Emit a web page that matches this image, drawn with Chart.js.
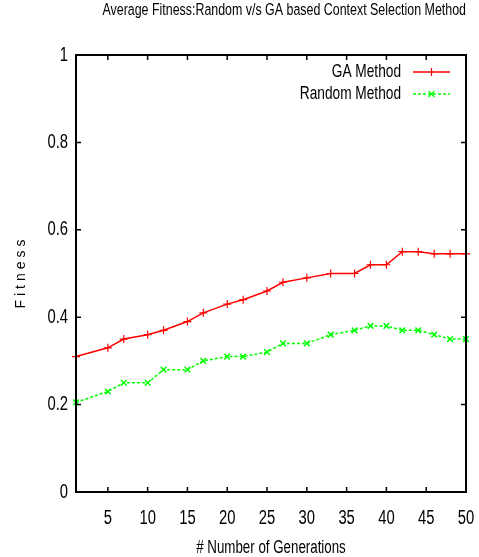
<!DOCTYPE html>
<html>
<head>
<meta charset="utf-8">
<script src="https://cdn.jsdelivr.net/npm/chart.js@4"></script>
<style>
  html, body { margin: 0; padding: 0; background: #fff; }
  #wrap { width: 479px; height: 557px; }
</style>
</head>
<body>
<div id="wrap"><canvas id="grafico" width="479" height="557"></canvas></div>
<script>
// Datos
const generaciones = [1, 5, 7, 10, 12, 15, 17, 20, 22, 25, 27, 30, 33, 36, 38, 40, 42, 44, 46, 48, 50];
const fitnessGA = [0.31, 0.33, 0.35, 0.36, 0.37, 0.39, 0.41, 0.43, 0.44, 0.46, 0.48, 0.49, 0.50, 0.50, 0.52, 0.52, 0.55, 0.55, 0.545, 0.545, 0.545];
const fitnessRandom = [0.205, 0.23, 0.25, 0.25, 0.28, 0.28, 0.30, 0.31, 0.31, 0.32, 0.34, 0.34, 0.36, 0.37, 0.38, 0.38, 0.37, 0.37, 0.36, 0.35, 0.35];
const ticksX = [5, 10, 15, 20, 25, 30, 35, 40, 45, 50];
const ticksY = [0, 0.2, 0.4, 0.6, 0.8, 1];
const nombres = ["GA Method", "Random Method"];

const fuente = "'Liberation Sans', Arial, sans-serif";

const ctx = document.getElementById('grafico').getContext('2d');

// no hay fuente estrecha instalada: se comprime el texto en horizontal
const fillTextNormal = ctx.fillText.bind(ctx);
ctx.fillText = function (t, x, y, maxW) {
  this.save();
  this.translate(x, y);
  this.scale(0.74, 1);
  fillTextNormal(t, 0, 0);
  this.restore();
};

// marco, ticks hacia dentro, leyenda y etiqueta del eje y
const marco = {
  id: 'marco',
  afterDraw(chart) {
    const c = chart.ctx;
    const a = chart.chartArea;
    const sx = chart.scales.x, sy = chart.scales.y;
    c.save();
    c.strokeStyle = '#000';
    c.lineWidth = 2;
    c.strokeRect(a.left, a.top, a.right - a.left, a.bottom - a.top);
    c.lineWidth = 1.5;
    c.beginPath();
    ticksX.forEach(v => {
      const px = sx.getPixelForValue(v);
      c.moveTo(px, a.bottom); c.lineTo(px, a.bottom - 5);
      c.moveTo(px, a.top); c.lineTo(px, a.top + 5);
    });
    ticksY.forEach(v => {
      const py = sy.getPixelForValue(v);
      c.moveTo(a.left, py); c.lineTo(a.left + 5, py);
      c.moveTo(a.right, py); c.lineTo(a.right - 5, py);
    });
    c.stroke();

    // leyenda
    c.font = '18.5px ' + fuente;
    c.textAlign = 'right';
    c.textBaseline = 'middle';
    chart.data.datasets.forEach((ds, i) => {
      const y = a.top + 17 + i * 22;
      c.fillStyle = '#000';
      c.fillText(ds.label, 401, y);
      c.strokeStyle = ds.borderColor;
      c.lineWidth = 1.5;
      c.setLineDash(ds.borderDash || []);
      c.beginPath();
      c.moveTo(413, y); c.lineTo(450, y);
      c.stroke();
      c.setLineDash([]);
      c.lineWidth = 1.2;
      c.beginPath();
      if (ds.pointStyle === 'cross') {
        c.moveTo(431.5, y - 4); c.lineTo(431.5, y + 4);
      } else {
        c.moveTo(428.5, y - 3); c.lineTo(434.5, y + 3);
        c.moveTo(434.5, y - 3); c.lineTo(428.5, y + 3);
      }
      c.stroke();
    });

    // etiqueta "Fitness" (ancha, con espaciado)
    c.translate(21, 274);
    c.rotate(-Math.PI / 2);
    c.font = '14px ' + fuente;
    c.letterSpacing = '4px';
    c.textAlign = 'center';
    c.fillStyle = '#000';
    fillTextNormal('Fitness', 2, 0);
    c.restore();
  }
};

new Chart(ctx, {
  type: 'line',
  data: {
    datasets: [{
      label: nombres[0],
      data: generaciones.map((g, i) => ({ x: g, y: fitnessGA[i] })),
      borderColor: '#ff0000',
      borderWidth: 1.5,
      pointStyle: 'cross',
      pointRadius: 4,
      pointBorderColor: '#ff0000',
      pointBorderWidth: 1.2,
      fill: false,
      tension: 0,
      clip: 6
    }, {
      label: nombres[1],
      data: generaciones.map((g, i) => ({ x: g, y: fitnessRandom[i] })),
      borderColor: '#00ff00',
      borderWidth: 1.5,
      borderDash: [3, 2],
      pointStyle: 'crossRot',
      pointRadius: 4,
      pointBorderColor: '#00ff00',
      pointBorderWidth: 1.5,
      fill: false,
      tension: 0,
      clip: 6
    }]
  },
  options: {
    responsive: false,
    animation: false,
    layout: { padding: { left: 0, right: 13, top: 0, bottom: 0 } },
    plugins: {
      legend: { display: false },
      tooltip: { enabled: false },
      title: {
        display: true,
        text: 'Average Fitness:Random v/s GA based Context Selection Method',
        align: 'end',
        color: '#000',
        font: { family: fuente, size: 16.8, weight: 'normal', lineHeight: 1.2 },
        padding: { top: 0.6, bottom: 34.24 }
      }
    },
    scales: {
      x: {
        type: 'linear',
        min: 1,
        max: 50,
        afterBuildTicks: s => { s.ticks = ticksX.map(v => ({ value: v })); },
        afterFit: s => { s.height = 65; s.paddingLeft = 0; s.paddingRight = 0; },
        grid: { display: false, drawTicks: false },
        border: { display: false },
        ticks: {
          color: '#000',
          padding: 14,
          maxRotation: 0,
          font: { family: fuente, size: 20 }
        },
        title: {
          display: true,
          text: '# Number of Generations',
          color: '#000',
          font: { family: fuente, size: 18, lineHeight: 1 },
          padding: 0
        }
      },
      y: {
        min: 0,
        max: 1,
        afterBuildTicks: s => { s.ticks = ticksY.map(v => ({ value: v })); },
        afterFit: s => { s.width = 76; s.paddingTop = 0; s.paddingBottom = 0; },
        grid: { display: false, drawTicks: false },
        border: { display: false },
        ticks: {
          color: '#000',
          padding: 8,
          font: { family: fuente, size: 20 },
          callback: v => String(Math.round(v * 10) / 10)
        }
      }
    }
  },
  plugins: [marco]
});
</script>
</body>
</html>
